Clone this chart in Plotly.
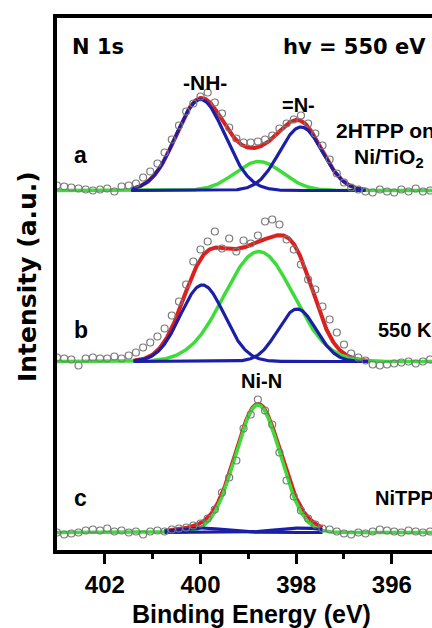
import numpy as np
import plotly.graph_objects as go

# ---------------- data ----------------
ENERGY = [403.00, 402.85, 402.70, 402.55, 402.40, 402.25, 402.10, 401.95, 401.80, 401.65,
          401.50, 401.35, 401.20, 401.05, 400.90, 400.75, 400.60, 400.45, 400.30, 400.15,
          400.00, 399.85, 399.70, 399.55, 399.40, 399.25, 399.10, 398.95, 398.80, 398.65,
          398.50, 398.35, 398.20, 398.05, 397.90, 397.75, 397.60, 397.45, 397.30, 397.15,
          397.00, 396.85, 396.70, 396.55, 396.40, 396.25, 396.10, 395.95, 395.80, 395.65,
          395.50, 395.35, 395.20]

# measured intensity above each spectrum's baseline (a.u.)
DATA_A = [5, 4, 3, 2, 1, 0, 1, 2, -1, 4,
          5, 7, 13, 19, 27, 38, 51, 65, 79, 87,
          94, 98, 88, 77, 63, 52, 48, 48, 49, 51,
          55, 62, 67, 71, 75, 67, 57, 45, 31, 17,
          8, 3, 1, -1, -2, 1, -1, -2, 1, -1,
          2, -1, 0]
DATA_B = [4, 3, 2, -4, 3, 4, 3, 3, 5, 3,
          6, 9, 14, 19, 25, 33, 46, 60, 77, 100,
          112, 120, 130, 113, 123, 110, 121, 118, 126, 140,
          142, 137, 122, 112, 97, 82, 72, 55, 42, 29,
          17, 8, 4, 1, -3, -4, -3, -2, -1, 0,
          -2, 0, 2]
DATA_C = [0, -2, -1, 0, 2, 3, 2, 4, 1, 2,
          0, 1, -2, 1, 2, 1, 3, 4, 5, 7,
          9, 14, 23, 40, 55, 72, 104, 118, 133, 122,
          108, 80, 52, 36, 22, 14, 8, 4, 3, 1,
          -1, -2, 0, -1, 1, 3, 2, 1, 0, 2,
          1, 0, 1]

PANEL_LETTERS = ["a", "b", "c"]
SAMPLE_NAMES = ["2HTPP on", "550 K", "NiTPP"]

# fit components per panel (a, b, c): centre (eV), height (a.u.), sigma (eV)
NH_CENTER = [400.00, 399.96, 400.00]
NH_HEIGHT = [91.0, 76.5, 4.5]
NH_SIGMA = [0.51, 0.46, 0.50]
N_CENTER = [397.90, 397.98, 397.90]
N_HEIGHT = [63.5, 52.5, 4.5]
N_SIGMA = [0.45, 0.40, 0.50]
NIN_CENTER = [398.78, 398.78, 398.80]
NIN_HEIGHT = [29.0, 110.0, 127.5]
NIN_SIGMA = [0.50, 0.72, 0.47]
FIT_HIGH = [401.45, 401.40, 400.75]
FIT_LOW = [396.55, 396.50, 397.45]

X_TICKS = [402, 400, 398, 396]

# ---------------- styling / layout ----------------
OFFSETS = [359.5, 188.5, 17.5]
X_RANGE = [403.0, 395.16]
Y_RANGE = [0, 532]
RED = "#dc1f1f"
BLUE = "#1b1fa8"
GREEN = "#3ddc3a"
GREY = "#7a7a7a"
ARIAL = "Liberation Sans"
DEJAVU = "DejaVu Sans"
ML, MT, PW, PH = 57, 18, 375, 532


def gauss(x, c, h, s):
    return h * np.exp(-((x - c) ** 2) / (2.0 * s * s))


datasets = [DATA_A, DATA_B, DATA_C]
fig = go.Figure()

for i in range(3):
    off = OFFSETS[i]
    xf = np.linspace(FIT_HIGH[i], FIT_LOW[i], 400)
    xg = np.linspace(X_RANGE[0], X_RANGE[1], 500)
    nh = gauss(xf, NH_CENTER[i], NH_HEIGHT[i], NH_SIGMA[i])
    nn = gauss(xf, N_CENTER[i], N_HEIGHT[i], N_SIGMA[i])
    nin_f = gauss(xf, NIN_CENTER[i], NIN_HEIGHT[i], NIN_SIGMA[i])
    nin_g = gauss(xg, NIN_CENTER[i], NIN_HEIGHT[i], NIN_SIGMA[i])
    total = nh + nn + nin_f

    fig.add_trace(go.Scatter(x=xf, y=off + total, mode="lines",
                             line=dict(color=RED, width=4), hoverinfo="skip"))
    fig.add_trace(go.Scatter(x=xg, y=off + nin_g, mode="lines",
                             line=dict(color=GREEN, width=3.5), hoverinfo="skip"))
    fig.add_trace(go.Scatter(x=xf, y=off + nh, mode="lines",
                             line=dict(color=BLUE, width=3.2), hoverinfo="skip"))
    fig.add_trace(go.Scatter(x=xf, y=off + nn, mode="lines",
                             line=dict(color=BLUE, width=3.2), hoverinfo="skip"))
    fig.add_trace(go.Scatter(x=ENERGY, y=[off + v for v in datasets[i]], mode="markers",
                             marker=dict(symbol="circle-open", size=7, color=GREY,
                                         line=dict(width=1.2, color=GREY)),
                             hoverinfo="skip"))

annotations = []


def add_text(text, px, py, size, family=ARIAL, xanchor="center", angle=0):
    annotations.append(dict(text=text, x=(px - ML) / PW, y=(MT + PH - py) / PH,
                            xref="paper", yref="paper",
                            showarrow=False, xanchor=xanchor, yanchor="middle",
                            textangle=angle,
                            font=dict(family=family, size=size, color="black", weight="bold")))


add_text("N 1s", 70, 47, 21, family=DEJAVU, xanchor="left")
add_text("hv = 550 eV", 428, 47, 21, family=DEJAVU, xanchor="right")
add_text("-NH-", 205, 82, 21)
add_text("=N-", 298, 105, 20)
add_text(SAMPLE_NAMES[0], 334, 130, 21, xanchor="left")
add_text("Ni/TiO<sub>2</sub>", 352, 158, 21, xanchor="left")
add_text(PANEL_LETTERS[0], 72, 155, 23, xanchor="left")
add_text(PANEL_LETTERS[1], 72, 330, 23, xanchor="left")
add_text(SAMPLE_NAMES[1], 376, 330, 20, xanchor="left")
add_text("Ni-N", 261, 381, 20)
add_text(PANEL_LETTERS[2], 72, 498, 23, xanchor="left")
add_text(SAMPLE_NAMES[2], 373, 498, 20, xanchor="left")
add_text("Binding Energy (eV)", 251, 614, 25)
add_text("Intensity (a.u.)", 27, 277, 25, family=DEJAVU, angle=-90)

fig.update_layout(
    width=432, height=628, autosize=False,
    margin=dict(l=ML, r=432 - ML - PW, t=MT, b=628 - MT - PH, pad=0),
    paper_bgcolor="white", plot_bgcolor="white",
    showlegend=False,
    annotations=annotations,
    xaxis=dict(range=X_RANGE, showgrid=False, zeroline=False, automargin=False,
               showline=True, linewidth=4, linecolor="black", mirror=True,
               tickmode="array", tickvals=X_TICKS, ticktext=[str(t) for t in X_TICKS],
               ticks="outside", ticklen=10, tickwidth=3, tickcolor="black",
               tickfont=dict(family=ARIAL, size=24, color="black", weight="bold"),
               minor=dict(tickvals=[401, 399, 397], ticks="outside", ticklen=5,
                          tickwidth=3, tickcolor="black")),
    yaxis=dict(range=Y_RANGE, showgrid=False, zeroline=False, automargin=False,
               showline=True, linewidth=4, linecolor="black", mirror=False,
               showticklabels=False, ticks=""),
)

fig.write_html("out.html", config={"displayModeBar": False},
               post_script="document.body.style.margin='0px';document.body.style.overflow='hidden';")
